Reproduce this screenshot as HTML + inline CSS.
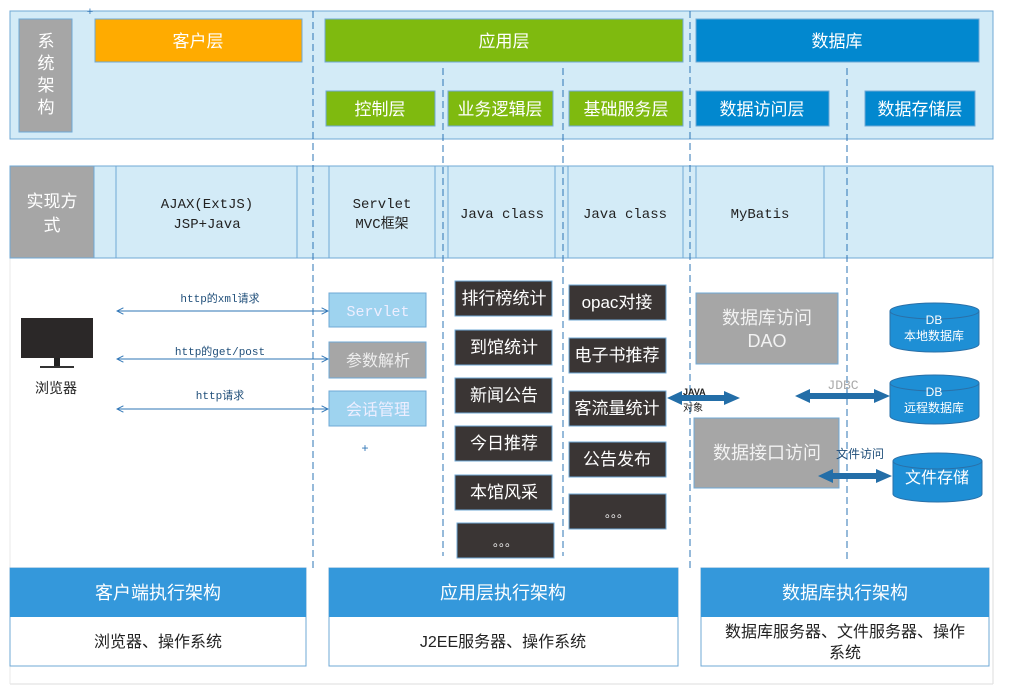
<!DOCTYPE html>
<html><head><meta charset="utf-8"><style>
body{margin:0;background:#fff;width:1009px;height:691px;overflow:hidden}
svg text{font-family:"Liberation Sans","Noto Sans CJK SC",sans-serif}
.m{font-family:"Liberation Mono","Noto Sans CJK SC",monospace !important}
</style></head><body>
<svg width="1009" height="691" xmlns="http://www.w3.org/2000/svg">
<defs>
<marker id="oa" viewBox="0 0 10 10" refX="9" refY="5" markerWidth="8" markerHeight="8" orient="auto-start-reverse"><path d="M1,1 L9,5 L1,9" fill="none" stroke="#2e75b6" stroke-width="1.2"/></marker>
</defs>
<!-- outer frame lower -->
<line x1="993" y1="258" x2="993" y2="684" stroke="#ddd"/>
<line x1="10" y1="684" x2="993" y2="684" stroke="#ddd"/>
<line x1="10" y1="258" x2="10" y2="684" stroke="#e8e8e8"/>
<!-- top band -->
<rect x="10" y="11" width="983" height="128" fill="#d3ebf7" stroke="#6fa8d6"/>
<rect x="19" y="19" width="53" height="113" fill="#a6a6a6" stroke="#6fa8d6"/>
<g fill="#fff" font-size="17" text-anchor="middle"><text x="46" y="47">系</text><text x="46" y="69">统</text><text x="46" y="91">架</text><text x="46" y="113">构</text></g>
<rect x="95" y="19" width="207" height="43" fill="#ffab00" stroke="#6fa8d6"/>
<text x="198" y="47" fill="#fff" font-size="17" text-anchor="middle">客户层</text>
<rect x="325" y="19" width="358" height="43" fill="#7fba0f" stroke="#6fa8d6"/>
<text x="504" y="47" fill="#fff" font-size="17" text-anchor="middle">应用层</text>
<rect x="696" y="19" width="283" height="43" fill="#0288cf" stroke="#6fa8d6"/>
<text x="837" y="47" fill="#fff" font-size="17" text-anchor="middle">数据库</text>
<g fill="#7fba0f" stroke="#6fa8d6"><rect x="326" y="91" width="109" height="35"/><rect x="448" y="91" width="105" height="35"/><rect x="569" y="91" width="114" height="35"/></g>
<g fill="#0288cf" stroke="#6fa8d6"><rect x="696" y="91" width="133" height="35"/><rect x="865" y="91" width="110" height="35"/></g>
<g fill="#fff" font-size="17" text-anchor="middle"><text x="380" y="115">控制层</text><text x="500" y="115">业务逻辑层</text><text x="626" y="115">基础服务层</text><text x="762" y="115">数据访问层</text><text x="920" y="115">数据存储层</text></g>
<!-- second band -->
<rect x="10" y="166" width="983" height="92" fill="#d3ebf7" stroke="#6fa8d6"/>
<rect x="10" y="166" width="84" height="92" fill="#a6a6a6" stroke="#6fa8d6"/>
<g fill="#fff" font-size="17" text-anchor="middle"><text x="52" y="207">实现方</text><text x="52" y="231">式</text></g>
<g stroke="#6fa8d6"><line x1="116" y1="166" x2="116" y2="258"/><line x1="297" y1="166" x2="297" y2="258"/><line x1="329" y1="166" x2="329" y2="258"/><line x1="435" y1="166" x2="435" y2="258"/><line x1="448" y1="166" x2="448" y2="258"/><line x1="555" y1="166" x2="555" y2="258"/><line x1="568" y1="166" x2="568" y2="258"/><line x1="683" y1="166" x2="683" y2="258"/><line x1="696" y1="166" x2="696" y2="258"/><line x1="824" y1="166" x2="824" y2="258"/></g>
<g class="m" fill="#222" font-size="14" text-anchor="middle"><text class="m" x="207" y="208">AJAX(ExtJS)</text><text class="m" x="207" y="228">JSP+Java</text><text class="m" x="382" y="208">Servlet</text><text class="m" x="382" y="228">MVC框架</text><text class="m" x="502" y="218">Java class</text><text class="m" x="625" y="218">Java class</text><text class="m" x="760" y="218">MyBatis</text></g>
<!-- dashed lines -->
<g stroke="#2e75b6" stroke-dasharray="7,4" stroke-width="1"><line x1="313" y1="11" x2="313" y2="570"/><line x1="443" y1="68" x2="443" y2="556"/><line x1="563" y1="68" x2="563" y2="556"/><line x1="690" y1="11" x2="690" y2="570"/><line x1="847" y1="68" x2="847" y2="560"/></g>
<!-- browser -->
<rect x="21" y="318" width="72" height="40" fill="#2b2828"/>
<rect x="54" y="358" width="6" height="8" fill="#222"/>
<rect x="40" y="366" width="34" height="2" fill="#333"/>
<text x="56" y="393" font-size="14" fill="#222" text-anchor="middle">浏览器</text>
<g stroke="#2e75b6" stroke-width="1" marker-start="url(#oa)" marker-end="url(#oa)"><line x1="117" y1="311" x2="328" y2="311"/><line x1="117" y1="359" x2="328" y2="359"/><line x1="117" y1="409" x2="328" y2="409"/></g>
<g fill="#1f4e79" font-size="11" text-anchor="middle"><text class="m" x="220" y="302">http的xml请求</text><text class="m" x="220" y="355">http的get/post</text><text class="m" x="220" y="399">http请求</text></g>
<rect x="329" y="293" width="97" height="34" fill="#9ed3ef" stroke="#6fa8d6"/>
<text class="m" x="378" y="316" fill="#eef" font-size="15" text-anchor="middle">Servlet</text>
<rect x="329" y="342" width="97" height="36" fill="#a6a6a6" stroke="#6fa8d6"/>
<text x="378" y="366" fill="#eee" font-size="16" text-anchor="middle">参数解析</text>
<rect x="329" y="391" width="97" height="35" fill="#9ed3ef" stroke="#6fa8d6"/>
<text x="378" y="415" fill="#eef" font-size="16" text-anchor="middle">会话管理</text>
<text x="365" y="452" fill="#2e75b6" font-size="12" text-anchor="middle">+</text>
<text x="90" y="15" fill="#2e75b6" font-size="11" text-anchor="middle">+</text>
<!-- dark boxes -->
<g fill="#3a3534" stroke="#6fa8d6"><rect x="455" y="281" width="97" height="35"/><rect x="455" y="330" width="97" height="35"/><rect x="455" y="378" width="97" height="35"/><rect x="455" y="426" width="97" height="35"/><rect x="455" y="475" width="97" height="35"/><rect x="457" y="523" width="97" height="35"/>
<rect x="569" y="285" width="97" height="35"/><rect x="569" y="338" width="97" height="35"/><rect x="569" y="391" width="97" height="35"/><rect x="569" y="442" width="97" height="35"/><rect x="569" y="494" width="97" height="35"/></g>
<g fill="#fff" font-size="17" text-anchor="middle"><text x="504" y="304">排行榜统计</text><text x="504" y="353">到馆统计</text><text x="504" y="401">新闻公告</text><text x="504" y="449">今日推荐</text><text x="504" y="498">本馆风采</text><text x="505" y="546" font-size="12">。。。</text>
<text x="617" y="308">opac对接</text><text x="617" y="361">电子书推荐</text><text x="617" y="414">客流量统计</text><text x="617" y="465">公告发布</text><text x="617" y="517" font-size="12">。。。</text></g>
<!-- DAO -->
<rect x="696" y="293" width="142" height="71" fill="#a6a6a6" stroke="#6fa8d6"/>
<g fill="#f2f2f2" font-size="18" text-anchor="middle"><text x="767" y="324">数据库访问</text><text x="767" y="347">DAO</text></g>
<rect x="694" y="418" width="145" height="70" fill="#a6a6a6" stroke="#6fa8d6"/>
<text x="767" y="459" fill="#f2f2f2" font-size="18" text-anchor="middle">数据接口访问</text>
<!-- thick arrows -->
<g fill="#236ea8">
<path d="M667,398 L682,391 L682,395 L724,395 L724,391 L740,398 L724,405 L724,401 L682,401 L682,405 Z"/>
<path d="M795,396 L810,389 L810,393 L874,393 L874,389 L890,396 L874,403 L874,399 L810,399 L810,403 Z"/>
<path d="M818,476 L833,469 L833,473 L876,473 L876,469 L892,476 L876,483 L876,479 L833,479 L833,483 Z"/>
</g>
<text x="683" y="395" font-size="9" fill="#222" font-weight="bold">JAVA</text>
<text x="683" y="411" font-size="10" fill="#222">对象</text>
<text x="843" y="389" font-size="13" fill="#aaa" text-anchor="middle" class="m">JDBC</text>
<text x="860" y="458" font-size="12" fill="#1f4e79" text-anchor="middle">文件访问</text>
<!-- cylinders -->
<g fill="#1e8fd5" stroke="#2a70a8">
<path d="M890,311 a44.5,8 0 0 1 89,0 v33 a44.5,8 0 0 1 -89,0 Z"/><path d="M890,311 a44.5,8 0 0 0 89,0" fill="none"/>
<path d="M890,383 a44.5,8 0 0 1 89,0 v33 a44.5,8 0 0 1 -89,0 Z"/><path d="M890,383 a44.5,8 0 0 0 89,0" fill="none"/>
<path d="M893,461 a44.5,8 0 0 1 89,0 v33 a44.5,8 0 0 1 -89,0 Z"/><path d="M893,461 a44.5,8 0 0 0 89,0" fill="none"/>
</g>
<g fill="#fff" text-anchor="middle" font-size="12"><text x="934" y="324">DB</text><text x="934" y="340">本地数据库</text><text x="934" y="396">DB</text><text x="934" y="412">远程数据库</text><text x="937" y="483" font-size="16">文件存储</text></g>
<!-- bottom panels -->
<g stroke="#6fa8d6"><rect x="10" y="568" width="296" height="98" fill="#fff"/><rect x="329" y="568" width="349" height="98" fill="#fff"/><rect x="701" y="568" width="288" height="98" fill="#fff"/></g>
<g fill="#3498db"><rect x="10" y="568" width="296" height="49"/><rect x="329" y="568" width="349" height="49"/><rect x="701" y="568" width="288" height="49"/></g>
<g fill="#fff" font-size="18" text-anchor="middle"><text x="158" y="599">客户端执行架构</text><text x="503" y="599">应用层执行架构</text><text x="845" y="599">数据库执行架构</text></g>
<g fill="#222" font-size="16" text-anchor="middle"><text x="158" y="647">浏览器、操作系统</text><text x="503" y="647">J2EE服务器、操作系统</text><text x="845" y="637">数据库服务器、文件服务器、操作</text><text x="845" y="658">系统</text></g>
</svg>
</body></html>
